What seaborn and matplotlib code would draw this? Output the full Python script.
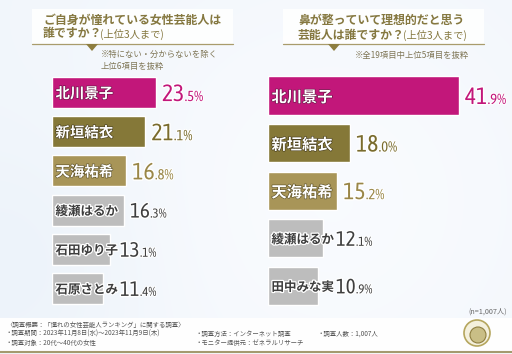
import numpy as np
import pandas as pd
import matplotlib
matplotlib.use("Agg")
import matplotlib.pyplot as plt
import matplotlib.patheffects as pe
from matplotlib.patches import Rectangle, Polygon, Circle
from matplotlib.transforms import offset_copy
import seaborn as sns

# ---------------- data ----------------
left_names = ["北川景子", "新垣結衣", "天海祐希", "綾瀬はるか", "石田ゆり子", "石原さとみ"]
left_values = [23.5, 21.1, 16.8, 16.3, 13.1, 11.4]
right_names = ["北川景子", "新垣結衣", "天海祐希", "綾瀬はるか", "田中みな実"]
right_values = [41.9, 18.0, 15.2, 12.1, 10.9]

left_title = ["ご自身が憧れている女性芸能人は", "誰ですか？"]
right_title = ["鼻が整っていて理想的だと思う", "芸能人は誰ですか？"]
title_suffix = "(上位3人まで)"
left_note = ["※特にない・分からないを除く", "上位6項目を抜粋"]
right_note = ["※全19項目中上位5項目を抜粋"]
n_label = "(n=1,007人)"
footer_col1 = ["〈調査概要：「憧れの女性芸能人ランキング」に関する調査〉",
               "・調査期間：2023年11月8日(水)～2023年11月9日(木)",
               "・調査対象：20代～40代の女性"]
footer_col2 = ["・調査方法：インターネット調査", "・モニター提供元：ゼネラルリサーチ"]
footer_col3 = ["・調査人数：1,007人"]

PINK = "#C2177A"
OLIVE = "#857838"
GOLD = "#A89558"
GRAY = "#BDBDBD"
rank_colors = [PINK, OLIVE, GOLD]
stroke_colors = ["#6A1446", "#4A4020", "#5E5228"]
text_rank_colors = [PINK, "#7A6C2E", "#9A8748"]
DARK = "#3E3E3E"
TITLE_C = "#857840"

sns.set_theme(style="white")
plt.rcParams["font.family"] = ["Noto Sans CJK JP", "DejaVu Sans"]
NUMFONT = ["Asap Condensed", "Archivo Narrow", "Roboto"]

W, H = 512, 354
fig = plt.figure(figsize=(W / 100, H / 100), dpi=100)

# ---------------- background ----------------
bg = fig.add_axes([0, 0, 1, 1])
bg.set_xlim(0, W)
bg.set_ylim(H, 0)
bg.axis("off")
yy, xx = np.mgrid[0:H, 0:W]
base = np.array([0.90, 0.935, 0.97])
wh = np.array([0.985, 0.99, 1.0])
t = np.clip(0.55 + 0.35 * np.exp(-((xx - 330) ** 2 + (yy - 200) ** 2) / (2 * 170 ** 2))
            - 0.25 * np.exp(-((xx - 20) ** 2 + (yy - 260) ** 2) / (2 * 90 ** 2)), 0, 1)
img = base[None, None, :] * (1 - t[..., None]) + wh[None, None, :] * t[..., None]
bg.imshow(img, extent=[0, W, H, 0], aspect="auto", zorder=0)

for (x0, x1, tri) in [(32, 233, 92), (283, 484, 334)]:
    bg.add_patch(Rectangle((x0, 9), x1 - x0, 35, facecolor="white", alpha=0.9,
                           edgecolor="none", zorder=1))
    bg.plot([x0, x1], [44, 44], color="#A99C6C", lw=0.9, zorder=2)
    bg.add_patch(Polygon([(tri - 6, 44), (tri + 6, 44), (tri, 51)], closed=True,
                         facecolor="#8E7E3F", edgecolor="none", zorder=2))

def title_block(x, lines, y1, y2):
    bg.text(x, y1, lines[0], fontsize=8.6, fontweight="bold", color=TITLE_C,
            va="center", ha="left", zorder=3)
    t2 = bg.text(x, y2, lines[1], fontsize=8.6, fontweight="bold", color=TITLE_C,
                 va="center", ha="left", zorder=3)
    return t2

lt2 = title_block(43, left_title, 20, 34)
rt2 = title_block(298, right_title, 20, 35)

for y, s in zip([54, 66], left_note):
    bg.text(101, y, s, fontsize=6.0, color="#7F7656", va="center", ha="left", zorder=3)
bg.text(469, 55, right_note[0], fontsize=6.0, color="#7F7656", va="center", ha="right", zorder=3)

bg.add_patch(Rectangle((0, 318), W, 33, facecolor="white", alpha=0.95, edgecolor="none", zorder=1))
bg.plot([0, W], [351.5, 351.5], color="#A49A6E", lw=1.5, zorder=2)
for y, s in zip([325, 334, 343], footer_col1):
    bg.text(6, y, s, fontsize=4.6, color="#555555", va="center", ha="left", zorder=3)
for y, s in zip([334, 343], footer_col2):
    bg.text(195, y, s, fontsize=4.6, color="#555555", va="center", ha="left", zorder=3)
for y, s in zip([334], footer_col3):
    bg.text(318, y, s, fontsize=4.6, color="#555555", va="center", ha="left", zorder=3)
bg.text(507, 312, n_label, fontsize=5.2, color="#666666", va="center", ha="right", zorder=3)

bg.add_patch(Circle((477, 333), 13, facecolor="#F4F0DC", edgecolor="#B5A65E", lw=1.2, zorder=2))
bg.add_patch(Circle((478, 335), 8, facecolor="#C9BE86", edgecolor="#8E7E3F", lw=0.8, zorder=3))

# ---------------- bar panels ----------------
def panel(rect, names, values, bar_w):
    ax = fig.add_axes(rect)
    ax.patch.set_alpha(0)
    df = pd.DataFrame({"name": names, "value": values})
    pal = {n: (rank_colors[i] if i < 3 else GRAY) for i, n in enumerate(names)}
    sns.barplot(data=df, x="value", y="name", hue="name", palette=pal, legend=False,
                width=bar_w, saturation=1, ax=ax, orient="h")
    ax.set_xlim(0, 50)
    ax.set_ylim(len(names) - 0.5, -0.5)
    ax.axis("off")
    return ax

lax = panel([52 / W, 1 - 308 / H, 221.5 / W, 235 / H], left_names, left_values, 0.79)
rax = panel([268 / W, 1 - 309.7 / H, 228 / W, 238 / H], right_names, right_values, 0.80)

def name_labels(ax, names, fs_color, fs_gray):
    out = []
    for i, n in enumerate(names):
        top = i < 3
        tr = offset_copy(ax.transData, fig=fig, x=2.5, y=0, units="points")
        if top:
            tx = ax.text(0, i, n, transform=tr, fontsize=fs_color, fontweight="bold", color="white",
                         va="center_baseline", ha="left",
                         path_effects=[pe.withStroke(linewidth=0.9, foreground=stroke_colors[i])])
        else:
            tx = ax.text(0, i, n, transform=tr, fontsize=fs_gray, fontweight="bold", color=DARK,
                         va="center_baseline", ha="left",
                         path_effects=[pe.withStroke(linewidth=1.8, foreground="white")])
        out.append(tx)
    return out

ln = name_labels(lax, left_names, 10.4, 9.0)
rn = name_labels(rax, right_names, 11, 9.0)

fig.canvas.draw()
r = fig.canvas.get_renderer()

def value_labels(ax, names, values, name_txts, num_big, num_gray):
    res = []
    for i, v in enumerate(values):
        top = i < 3
        bar_end = ax.transData.transform((v, i))[0]
        nm_end = name_txts[i].get_window_extent(r).x1
        if nm_end + 3 > bar_end:
            xpix = nm_end + 2
        else:
            xpix = bar_end + 6
        xd = ax.transData.inverted().transform((xpix, 0))[0]
        s = f"{v:.1f}"
        ip, dp = s.split(".")
        size = num_big if top else num_gray
        col = text_rank_colors[i] if top else DARK
        tr = offset_copy(ax.transData, fig=fig, x=0, y=-0.36 * size, units="points")
        tb = ax.text(xd, i, ip, transform=tr, fontsize=size, family=NUMFONT, color=col,
                     va="baseline", ha="left",
                     path_effects=[pe.withStroke(linewidth=2, foreground="white")])
        res.append((tb, i, "." + dp + "%", size, col))
    return res

lb = value_labels(lax, left_names, left_values, ln, 17, 15)
rb = value_labels(rax, right_names, right_values, rn, 17, 15)

fig.canvas.draw()
for ax, lst in [(lax, lb), (rax, rb)]:
    for tb, i, small, size, col in lst:
        bb = tb.get_window_extent(r)
        xd = ax.transData.inverted().transform((bb.x1, bb.y0))[0]
        tr = offset_copy(ax.transData, fig=fig, x=0.2, y=-0.36 * size, units="points")
        ax.text(xd, i, small, transform=tr, fontsize=size * 0.62, family=NUMFONT, color=col,
                va="baseline", ha="left",
                path_effects=[pe.withStroke(linewidth=1.5, foreground="white")])

for t2 in [lt2, rt2]:
    bb = t2.get_window_extent(r)
    xd, yd = bg.transData.inverted().transform((bb.x1, (bb.y0 + bb.y1) / 2))
    bg.text(xd - 2, yd + 0.5, title_suffix, fontsize=7.4, color=TITLE_C, va="center", ha="left", zorder=3)

fig.savefig("out.png", dpi=100)
